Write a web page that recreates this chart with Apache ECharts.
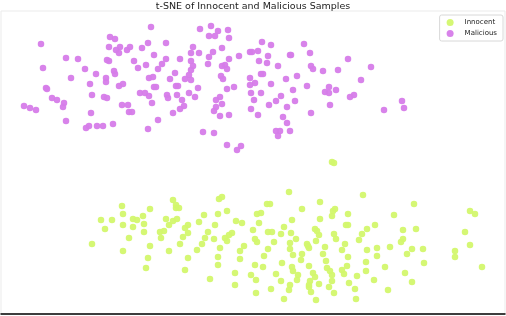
<!DOCTYPE html>
<html>
<head>
<meta charset="utf-8">
<script src="https://cdn.jsdelivr.net/npm/echarts@6/dist/echarts.min.js"></script>
<style>html,body{margin:0;padding:0;background:#fff}#c{width:506px;height:316px}</style>
</head>
<body>
<div id="c"></div>
<script>
const titleText = 't-SNE of Innocent and Malicious Samples';
const seriesNames = ['Innocent', 'Malicious'];

const innocent = [
[-131,-43],[-103,-46],[-130,-51],[-152,-57],[-141,-57],[-120,-56],[-116,-57],[-110,-53],[-87,-56],[-130,-62],
[-120,-64],[-109,-61],[-84,-62],[-148,-66],[-109,-69],[-93,-69],[-89,-68],[-124,-75],[-92,-75],[-161,-81],
[-103,-83],[-130,-88],[-84,-88],[-105,-95],[-107,-105],
[79,1],[81,0],[36,-29],[-80,-37],[-34,-36],[-31,-34],[-77,-42],[-77,-45],[-74,-45],[14,-41],
[17,-41],[67,-39],[49,-46],[80,-48],[82,-46],[-26,-48],[-49,-52],[-35,-51],[4,-51],[8,-50],
[79,-53],[39,-57],[67,-56],[-80,-58],[-76,-56],[-54,-59],[-17,-58],[-11,-60],[6,-60],[-65,-62],
[-68,-65],[-38,-62],[31,-64],[0,-67],[62,-66],[64,-68],[-65,-70],[-45,-69],[-21,-70],[-24,-72],
[15,-69],[19,-69],[38,-70],[28,-71],[81,-71],[-70,-74],[-48,-75],[-39,-76],[-28,-75],[-26,-78],
[2,-76],[4,-79],[43,-76],[66,-72],[83,-76],[63,-78],[21,-79],[37,-80],[-51,-81],[-73,-81],
[54,-81],[56,-85],[55,-83],[-9,-83],[72,-84],[-33,-85],[37,-86],[15,-86],[-56,-87],[-13,-88],
[70,-91],[11,-93],[40,-92],[49,-91],[-35,-94],[-65,-95],[-13,-96],[48,-97],[73,-98],[29,-100],
[-35,-102],[2,-102],[10,-104],[39,-104],[40,-108],[56,-103],[74,-105],[77,-108],[-68,-107],[-18,-110],
[-2,-112],[23,-111],[45,-112],[44,-117],[60,-110],[62,-114],[79,-112],[79,-118],[-43,-116],[3,-117],
[28,-118],[57,-118],[56,-122],[56,-124],[-18,-122],[37,-122],[66,-121],[76,-124],[18,-126],[36,-127],
[3,-130],[58,-129],[81,-130],[31,-136],[63,-137],
[110,-32],[161,-41],[95,-51],[141,-52],[217,-48],[222,-51],[93,-62],[95,-62],[122,-62],[114,-66],
[150,-67],[163,-66],[212,-69],[109,-71],[106,-77],[150,-76],[148,-79],[92,-81],[217,-82],[137,-84],
[124,-85],[114,-87],[89,-87],[159,-86],[170,-86],[202,-88],[202,-94],[154,-91],[124,-93],[95,-94],
[171,-100],[113,-99],[94,-103],[132,-104],[229,-104],[89,-107],[91,-111],[113,-108],[152,-110],[104,-113],
[121,-117],[159,-119],[96,-120],[102,-126],[135,-127],[103,-136]
];

const malicious = [
[-102,136],[-143,126],[-138,124],[-212,119],[-105,120],[-87,120],[-144,116],[-133,116],[-137,113],[-134,110],
[-126,113],[-123,116],[-111,115],[-99,108],[-87,104],[-187,105],[-175,104],[-146,103],[-144,102],[-119,102],
[-91,99],[-210,95],[-168,94],[-115,95],[-107,98],[-95,94],[-139,92],[-138,89],[-157,89],[-182,85],
[-147,85],[-147,81],[-104,85],[-100,86],[-83,84],[-163,79],[-134,77],[-130,79],[-207,75],[-206,74],
[-99,76],[-97,76],[-113,70],[-108,70],[-104,67],[-86,68],[-85,65],[-161,68],[-149,66],[-146,65],
[-201,65],[-196,63],[-189,60],[-190,56],[-101,60],[-131,58],[-125,58],[-229,57],[-223,55],[-217,53],
[-124,51],[-121,51],[-162,50],[-95,43],[-187,42],[-140,39],[-150,37],[-156,37],[-164,37],[-167,35],
[-105,34],
[-53,134],[-42,137],[-35,132],[-25,133],[-44,127],[-38,127],[-24,125],[9,121],[18,118],[51,119],
[-60,116],[-31,115],[-40,111],[-54,110],[-62,110],[-3,111],[-1,111],[5,112],[57,110],[37,108],
[38,108],[15,107],[-14,107],[-44,106],[-73,104],[-24,104],[-62,102],[6,102],[14,100],[-45,99],
[-31,97],[-28,98],[-60,97],[-26,94],[-62,93],[25,97],[58,97],[60,94],[70,92],[85,93],
[-78,90],[-64,88],[-32,87],[-30,84],[8,89],[10,89],[44,87],[-3,85],[33,84],[-68,84],
[-62,83],[2,80],[-3,78],[18,79],[-77,77],[-75,77],[-55,75],[-19,76],[-26,74],[54,77],
[76,76],[40,73],[83,73],[72,71],[76,70],[-64,70],[-2,70],[8,70],[-76,68],[-58,66],
[-33,66],[28,67],[-71,63],[-37,63],[-31,59],[1,63],[23,62],[42,62],[16,58],[-69,57],
[-73,54],[-37,56],[-39,52],[34,56],[77,58],[-2,54],[-80,50],[-33,47],[-24,48],[5,48],
[58,50],[30,46],[34,40],[-50,31],[-39,30],[23,32],[27,32],[25,27],[37,32],[-26,18],
[-12,17],[-16,13],
[95,104],[118,96],[108,83],[101,68],[97,66],[149,62],[151,55],[131,53]
];

const xRange = [-252, 252];
const yRange = [-151, 152];
const colors = ['#d3f76d', '#d67ce9'];

const chart = echarts.init(document.getElementById('c'), null, {renderer: 'canvas'});
chart.setOption({
  animation: false,
  backgroundColor: '#ffffff',
  title: {
    text: titleText,
    left: 'center',
    top: -3,
    textStyle: {fontFamily: 'DejaVu Sans', fontSize: 9.5, fontWeight: 'normal', color: '#222'}
  },
  legend: {
    orient: 'vertical',
    right: 3,
    top: 15,
    icon: 'circle',
    itemWidth: 7,
    itemHeight: 7,
    itemGap: 4,
    padding: [4, 6, 4, 7],
    borderColor: '#d8d8d8',
    borderWidth: 1,
    borderRadius: 2,
    backgroundColor: '#fff',
    textStyle: {fontFamily: 'DejaVu Sans', fontSize: 7, color: '#222', padding: [0, 0, 0, 6]},
    data: seriesNames
  },
  grid: {
    left: 1, right: 1, top: 11, bottom: 2,
    show: true, borderColor: '#ebebeb', borderWidth: 1, backgroundColor: 'transparent'
  },
  xAxis: {
    type: 'value', min: xRange[0], max: xRange[1],
    axisLine: {show: true, onZero: false, lineStyle: {color: '#000', width: 1.5}},
    axisTick: {show: false}, axisLabel: {show: false}, splitLine: {show: false}
  },
  yAxis: {
    type: 'value', min: yRange[0], max: yRange[1],
    axisLine: {show: false}, axisTick: {show: false}, axisLabel: {show: false}, splitLine: {show: false}
  },
  series: [
    {name: seriesNames[0], type: 'scatter', data: innocent, symbolSize: 6.5,
     itemStyle: {color: colors[0], opacity: 0.95}},
    {name: seriesNames[1], type: 'scatter', data: malicious, symbolSize: 6.5,
     itemStyle: {color: colors[1], opacity: 0.95}}
  ]
});
</script>
</body>
</html>
